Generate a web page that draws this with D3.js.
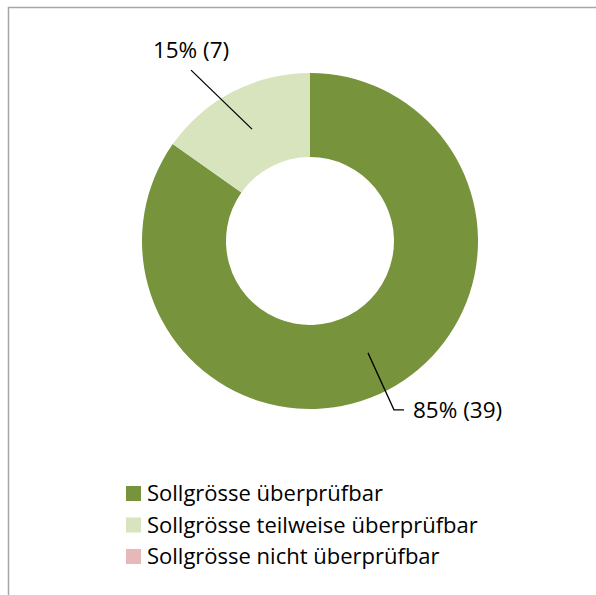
<!DOCTYPE html>
<html>
<head>
<meta charset="utf-8">
<script src="https://cdn.jsdelivr.net/npm/d3@7"></script>
<style>
  html, body { margin: 0; padding: 0; background: #fff; }
  svg text { font-family: "Open Sans", "Noto Sans", sans-serif; fill: #000; }
</style>
</head>
<body>
<svg id="chart" width="596" height="595"></svg>
<script>
// Data
const categories = ['Sollgrösse überprüfbar', 'Sollgrösse teilweise überprüfbar', 'Sollgrösse nicht überprüfbar'];
const counts = [39, 7, 0];
const colors = ['#77933C', '#D7E4BD', '#E6B9B8'];

const width = 596, height = 595;
const cx = 310, cy = 241;
const outerR = 168, innerR = 84;

const svg = d3.select('#chart');

// Chart frame (runs off the right and bottom edges)
svg.append('rect')
  .attr('x', 8.5).attr('y', 7.5)
  .attr('width', width + 20).attr('height', height + 20)
  .attr('fill', 'none')
  .attr('stroke', '#a6a6a6')
  .attr('stroke-width', 1.5);

const total = d3.sum(counts);
const data = categories.map((c, i) => ({ name: c, value: counts[i], color: colors[i] }));

const pie = d3.pie().sort(null).value(d => d.value);
const arc = d3.arc().innerRadius(innerR).outerRadius(outerR);
const midArc = d3.arc().innerRadius((innerR + outerR) / 2).outerRadius((innerR + outerR) / 2);

const g = svg.append('g').attr('transform', `translate(${cx},${cy})`);
const arcs = pie(data);

g.selectAll('path.slice')
  .data(arcs)
  .join('path')
  .attr('class', 'slice')
  .attr('d', arc)
  .attr('fill', d => d.data.color);

// Data labels with leader lines
const labelFont = 22.5;
arcs.filter(d => d.data.value > 0).forEach(d => {
  const [x0, y0] = midArc.centroid(d);
  const txt = `${Math.round(d.data.value / total * 100)}% (${d.data.value})`;
  const mid = (d.startAngle + d.endAngle) / 2;
  if (Math.sin(mid) >= 0) {
    // label to the right, elbow line
    const ex = x0 + 26, ey = y0 + 57;
    g.append('path')
      .attr('d', `M${x0},${y0}L${ex},${ey}L${ex + 10},${ey}`)
      .attr('fill', 'none').attr('stroke', '#000').attr('stroke-width', 1.3);
    g.append('text')
      .attr('x', ex + 19).attr('y', ey)
      .attr('dy', '0.35em')
      .attr('font-size', labelFont)
      .text(txt);
  } else {
    const ex = x0 - 61, ey = y0 - 59;
    g.append('path')
      .attr('d', `M${x0},${y0}L${ex},${ey}`)
      .attr('fill', 'none').attr('stroke', '#000').attr('stroke-width', 1.3);
    g.append('text')
      .attr('x', ex).attr('y', ey - 12)
      .attr('text-anchor', 'middle')
      .attr('font-size', labelFont)
      .text(txt);
  }
});

// Legend
const legend = svg.append('g').attr('transform', 'translate(126,486)');
const rows = legend.selectAll('g.item')
  .data(data)
  .join('g')
  .attr('class', 'item')
  .attr('transform', (d, i) => `translate(0,${i * 31.5})`);
rows.append('rect')
  .attr('width', 15).attr('height', 15)
  .attr('fill', d => d.color);
rows.append('text')
  .attr('x', 21).attr('y', 7.5)
  .attr('dy', '0.35em')
  .attr('font-size', 22)
  .text(d => d.name);
</script>
</body>
</html>
